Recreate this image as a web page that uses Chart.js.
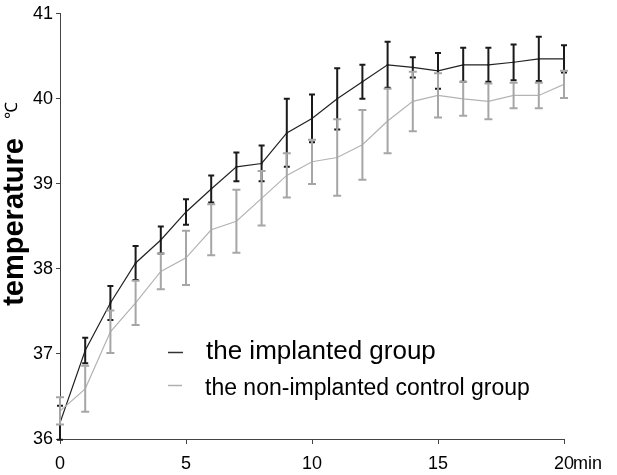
<!DOCTYPE html>
<html>
<head>
<meta charset="utf-8">
<script src="https://cdn.jsdelivr.net/npm/chart.js@4.4.1/dist/chart.umd.min.js"></script>
<style>
  html, body { margin: 0; padding: 0; background: #fff; }
</style>
</head>
<body>
<canvas id="chartTemp" width="617" height="475"></canvas>
<script>
// minutes
const minutes = [0, 1, 2, 3, 4, 5, 6, 7, 8, 9, 10, 11, 12, 13, 14, 15, 16, 17, 18, 19, 20];

// the implanted group (mean, error)
const implantedMean = [36.19, 37.04, 37.60, 38.07, 38.34, 38.67, 38.94, 39.20, 39.24, 39.60, 39.77,
                       40.00, 40.20, 40.40, 40.37, 40.33, 40.40, 40.40, 40.43, 40.47, 40.47];
const implantedErr  = [0.20, 0.15, 0.20, 0.20, 0.16, 0.15, 0.16, 0.17, 0.21, 0.40, 0.28,
                       0.36, 0.20, 0.27, 0.12, 0.21, 0.20, 0.20, 0.21, 0.26, 0.16];

// the non-implanted control group (mean, error)
const controlMean = [36.33, 36.59, 37.26, 37.60, 37.97, 38.13, 38.46, 38.56, 38.83, 39.10, 39.26,
                     39.31, 39.46, 39.74, 39.97, 40.04, 40.00, 39.97, 40.04, 40.04, 40.17];
const controlErr  = [0.16, 0.27, 0.25, 0.26, 0.21, 0.32, 0.30, 0.37, 0.32, 0.26, 0.26,
                     0.45, 0.41, 0.38, 0.35, 0.26, 0.20, 0.21, 0.15, 0.15, 0.16];

const xTicks = [0, 5, 10, 15, 20];
const yTicks = [36, 37, 38, 39, 40, 41];

const legendLabels = ['the implanted group', 'the non-implanted control group'];
const yTitle = 'temperature';
const yUnit = '℃';
const xUnit = 'min';

const FONT = 'Arial, "Liberation Sans", sans-serif';

function toPoints(ys) {
    return minutes.map((m, i) => ({ x: m, y: ys[i] }));
}

// barres d'erreur dessinées avec les échelles du graphique
const errorBarsPlugin = {
    id: 'errorBars',
    afterDatasetsDraw(chart) {
        const ctx = chart.ctx;
        const xs = chart.scales.x;
        const ys = chart.scales.y;
        const sets = [
            { mean: implantedMean, err: implantedErr, color: '#1a1a1a', cap: 3 },
            { mean: controlMean, err: controlErr, color: '#a6a6a6', cap: 4 }
        ];
        ctx.save();
        ctx.lineWidth = 2;
        sets.forEach(s => {
            ctx.strokeStyle = s.color;
            minutes.forEach((m, i) => {
                const px = xs.getPixelForValue(m);
                const top = ys.getPixelForValue(s.mean[i] + s.err[i]);
                const bot = ys.getPixelForValue(s.mean[i] - s.err[i]);
                ctx.beginPath();
                ctx.moveTo(px, top);
                ctx.lineTo(px, bot);
                ctx.moveTo(px - s.cap, top);
                ctx.lineTo(px + s.cap, top);
                ctx.moveTo(px - s.cap, bot);
                ctx.lineTo(px + s.cap, bot);
                ctx.stroke();
            });
        });
        ctx.restore();
    }
};

// légende, titre de l'axe y et unité de l'axe x
const labelsPlugin = {
    id: 'extraLabels',
    afterDraw(chart) {
        const ctx = chart.ctx;
        const xs = chart.scales.x;
        ctx.save();

        // légende
        ctx.lineWidth = 1.5;
        ctx.strokeStyle = '#333';
        ctx.beginPath(); ctx.moveTo(168, 352.5); ctx.lineTo(183, 352.5); ctx.stroke();
        ctx.strokeStyle = '#b0b0b0';
        ctx.beginPath(); ctx.moveTo(168, 385.5); ctx.lineTo(182, 385.5); ctx.stroke();

        ctx.fillStyle = '#000';
        ctx.textAlign = 'left';
        ctx.textBaseline = 'alphabetic';
        ctx.font = '26px ' + FONT;
        ctx.fillText(legendLabels[0], 206, 359);
        ctx.font = '23px ' + FONT;
        ctx.fillText(legendLabels[1], 205, 395);

        // unité x
        ctx.font = '18px ' + FONT;
        const px20 = xs.getPixelForValue(xTicks[xTicks.length - 1]);
        ctx.fillText(xUnit, px20 + 9, 469);

        // titre y
        ctx.translate(23, 222);
        ctx.rotate(-Math.PI / 2);
        ctx.textAlign = 'center';
        ctx.font = 'bold 29px ' + FONT;
        ctx.fillText(yTitle, 0, 0);
        ctx.font = '17px ' + FONT;
        ctx.fillText(yUnit, 112, -6);

        ctx.restore();
    }
};

const canvas = document.getElementById('chartTemp');

const chart = new Chart(canvas, {
    type: 'line',
    data: {
        datasets: [
            {
                label: legendLabels[1],
                data: toPoints(controlMean),
                borderColor: '#b3b3b3',
                borderWidth: 1.2,
                pointRadius: 0,
                tension: 0,
                order: 1
            },
            {
                label: legendLabels[0],
                data: toPoints(implantedMean),
                borderColor: '#222',
                borderWidth: 1.2,
                pointStyle: 'rect',
                pointRadius: 1.3,
                pointBackgroundColor: '#222',
                pointBorderWidth: 0,
                tension: 0,
                order: 2
            }
        ]
    },
    options: {
        responsive: false,
        animation: false,
        layout: { padding: { top: 12, right: 53, left: 0, bottom: 0 } },
        plugins: {
            legend: { display: false },
            tooltip: { enabled: false }
        },
        scales: {
            x: {
                type: 'linear',
                min: 0,
                max: 20,
                afterFit(scale) { scale.height = 36; },
                afterBuildTicks(scale) { scale.ticks = xTicks.map(v => ({ value: v })); },
                border: { display: true, color: '#444', width: 1 },
                grid: { display: true, drawOnChartArea: false, tickLength: 5, color: '#444' },
                ticks: {
                    color: '#000',
                    font: { size: 18, family: FONT },
                    padding: 9,
                    maxRotation: 0,
                    callback: v => String(v)
                }
            },
            y: {
                min: 36,
                max: 41,
                afterFit(scale) { scale.width = 60; },
                afterBuildTicks(scale) { scale.ticks = yTicks.map(v => ({ value: v })); },
                border: { display: true, color: '#444', width: 1 },
                grid: { display: true, drawOnChartArea: false, tickLength: 4, color: '#444' },
                ticks: {
                    color: '#000',
                    font: { size: 18, family: FONT },
                    padding: 3,
                    callback: v => String(v)
                }
            }
        }
    },
    plugins: [errorBarsPlugin, labelsPlugin]
});
</script>
</body>
</html>
